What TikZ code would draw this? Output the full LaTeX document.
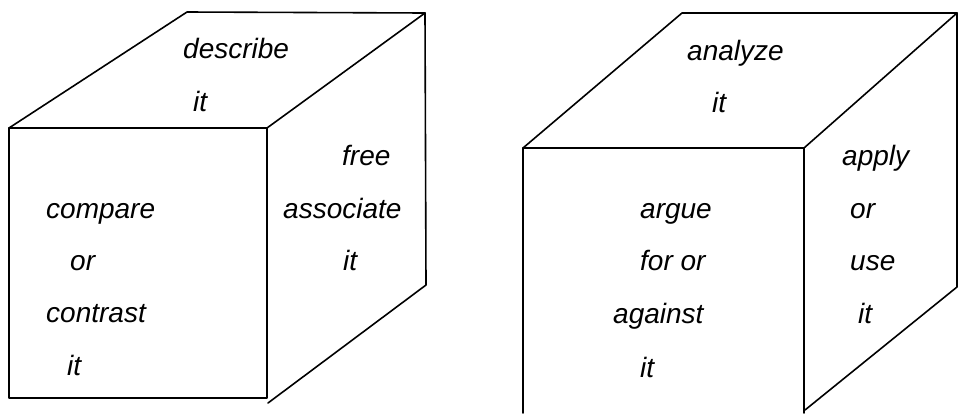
\documentclass[tikz,border=0pt]{standalone}
\usepackage{fontspec}
\setmainfont{Liberation Sans}
\begin{document}
\begin{tikzpicture}[x=1pt,y=-1pt,
  edge/.style={line width=1.6pt,line join=round,line cap=round},
  word/.style={anchor=base west,inner sep=0pt,font=\fontsize{28}{32}\selectfont\itshape}]
\useasboundingbox (0,0) rectangle (958,413);
% left cube corners
\coordinate (AftL) at (9,128);
\coordinate (AftR) at (267,128);
\coordinate (AfbL) at (9,398);
\coordinate (AfbR) at (267,398);
\coordinate (AbtL) at (187,12);
\coordinate (AbtR) at (425,13);
\coordinate (AbbR) at (426,285);
\coordinate (ArbF) at (268,403);
\draw[edge] (AftL) -- (AbtL) -- (AbtR) -- (AftR);
\draw[edge] (AftL) rectangle (AfbR);
\draw[edge] (AbtR) -- (AbbR) -- (ArbF);
% right cube corners
\coordinate (BftL) at (523,148);
\coordinate (BftR) at (804,148);
\coordinate (BfbL) at (523,413);
\coordinate (BfbR) at (804,413);
\coordinate (BbtL) at (682,13);
\coordinate (BbtR) at (957,13);
\coordinate (BbbR) at (957,287);
\coordinate (BrbF) at (805,410);
\draw[edge] (BftL) -- (BbtL) -- (BbtR) -- (BftR);
\draw[edge] (BfbL) -- (BftL) -- (BftR) -- (BfbR);
\draw[edge] (BbtR) -- (BbbR) -- (BrbF);
% left cube words
\node[word] (a1) at (183,58) {describe};
\node[word] (a2) at (193,111) {it};
\node[word] (a3) at (342,165) {free};
\node[word] (a4) at (283,218) {associate};
\node[word] (a5) at (343,270) {it};
\node[word] (a6) at (46,218) {compare};
\node[word] (a7) at (70,270) {or};
\node[word] (a8) at (46,322) {contrast};
\node[word] (a9) at (67,375) {it};
% right cube words
\node[word] (b1) at (687,60) {analyze};
\node[word] (b2) at (712,112) {it};
\node[word] (b3) at (842,165) {apply};
\node[word] (b4) at (850,218) {or};
\node[word] (b5) at (850,270) {use};
\node[word] (b6) at (858,323) {it};
\node[word] (b7) at (640,218) {argue};
\node[word] (b8) at (640,270) {for or};
\node[word] (b9) at (613,323) {against};
\node[word] (b10) at (640,377) {it};
\end{tikzpicture}
\end{document}
